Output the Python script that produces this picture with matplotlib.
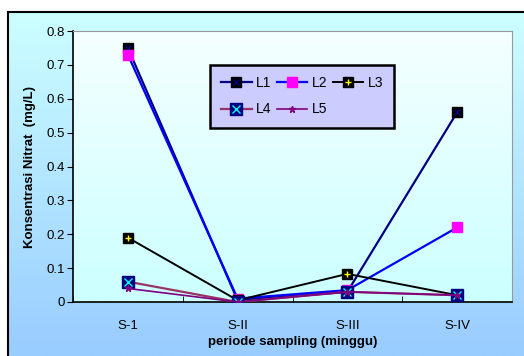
import numpy as np
import matplotlib.pyplot as plt

plt.rcParams['font.family'] = ['Liberation Sans', 'DejaVu Sans']

periode = ['S-1', 'S-II', 'S-III', 'S-IV']
L1 = [0.75, 0.005, 0.03, 0.56]
L2 = [0.73, 0.01, 0.035, 0.22]
L3 = [0.19, 0.005, 0.083, 0.02]
L4 = [0.06, 0.0, 0.03, 0.02]
L5 = [0.04, 0.0, 0.03, 0.02]

fig = plt.figure(figsize=(5.24, 3.56), dpi=100)

# outer chart area with gradient
bg = fig.add_axes([8/524, 0, 1 - 8/524, (356 - 12)/356])
grad = np.linspace(0, 1, 256).reshape(-1, 1)
top_c = np.array([0.80, 1.0, 1.0])
bot_c = np.array([0.60, 0.80, 1.0])
img = top_c + grad[..., None] * (bot_c - top_c)
bg.imshow(img.reshape(256, 1, 3), aspect='auto', extent=[0, 1, 0, 1])
bg.set_xlim(0, 1); bg.set_ylim(0, 1)
bg.set_xticks([]); bg.set_yticks([])
for s in ['right', 'bottom']:
    bg.spines[s].set_visible(False)
for s in ['left', 'top']:
    bg.spines[s].set_linewidth(1.5)

ax = fig.add_axes([73/524, 1 - 302/356, (512 - 73)/524, (302 - 31)/356])
x = np.arange(len(periode))

# plot area gradient
p_top = np.array([0.96, 1.0, 1.0])
p_bot = np.array([0.80, 1.0, 1.0])
pimg = p_top + grad[..., None] * (p_bot - p_top)
ax.imshow(pimg.reshape(256, 1, 3), aspect='auto', extent=[-0.5, 3.5, 0, 0.8], zorder=0)

# later series drawn on top, like the original
ms = 7
l1, = ax.plot(x, L1, color='#000080', lw=1.6, marker='s', ms=ms, mfc='black', mec='black', zorder=3)
l1b, = ax.plot(x, L1, ls='none', marker='x', ms=4, mec='#000080', mew=1, zorder=3.1)
l2, = ax.plot(x, L2, color='#0000ff', lw=1.6, marker='s', ms=ms, mfc='#ff00ff', mec='#ff00ff', zorder=3.2)
l3, = ax.plot(x, L3, color='black', lw=1.4, marker='s', ms=ms, mfc='black', mec='black', zorder=3.4)
l3b, = ax.plot(x, L3, ls='none', marker='+', ms=5, mec='yellow', mew=1, zorder=3.5)
l4, = ax.plot(x, L4, color='#993366', lw=1.6, marker='s', ms=9, mfc='#000080', mec='#000080', zorder=3.6)
l4b, = ax.plot(x, L4, ls='none', marker='x', ms=6, mec='#00ffff', mew=1, zorder=3.7)
l5, = ax.plot(x, L5, color='#800080', lw=1.2, marker='*', ms=5, mfc='#800080', mec='#800080', zorder=3.8)

ax.set_xlim(-0.5, 3.5)
ax.set_ylim(0, 0.8)
ax.set_yticks(np.arange(0, 0.81, 0.1))
ax.set_yticklabels(['0', '0.1', '0.2', '0.3', '0.4', '0.5', '0.6', '0.7', '0.8'])
ax.set_xticks(x)
ax.set_xticklabels(periode)
ax.set_xticks(np.arange(-0.5, 3.6, 1), minor=True)
ax.tick_params(axis='x', which='major', length=0, pad=13, labelsize=9.5)
ax.tick_params(axis='x', which='minor', length=4, direction='in')
ax.tick_params(axis='y', length=4, direction='out', labelsize=9.5, pad=2)
ax.spines['left'].set_linewidth(1.2)
ax.spines['bottom'].set_linewidth(1.2)
ax.spines['top'].set_color('#999999')
ax.spines['right'].set_color('#999999')
ax.spines['top'].set_linewidth(0.8)
ax.spines['right'].set_linewidth(0.8)

ax.set_xlabel('periode sampling (minggu)', fontsize=9.5, fontweight='bold', labelpad=3)
ax.set_ylabel('Konsentrasi Nitrat  (mg/L)', fontsize=9.5, fontweight='bold', labelpad=7)

# column-major fill so rows read L1 L2 L3 / L4 L5
leg = ax.legend([(l1, l1b), (l4, l4b), l2, l5, (l3, l3b)], ['L1', 'L4', 'L2', 'L5', 'L3'],
                ncol=3, loc='upper left', bbox_to_anchor=(0.312, 0.875), borderaxespad=0,
                fontsize=10, frameon=True, fancybox=False, edgecolor='black',
                facecolor='#ccccff', framealpha=1, handlelength=2.2, columnspacing=0.4,
                handletextpad=0.3, borderpad=0.8, labelspacing=0.9)
leg.get_frame().set_linewidth(1.8)
leg.set_zorder(5)

fig.savefig('out.png', dpi=100)
